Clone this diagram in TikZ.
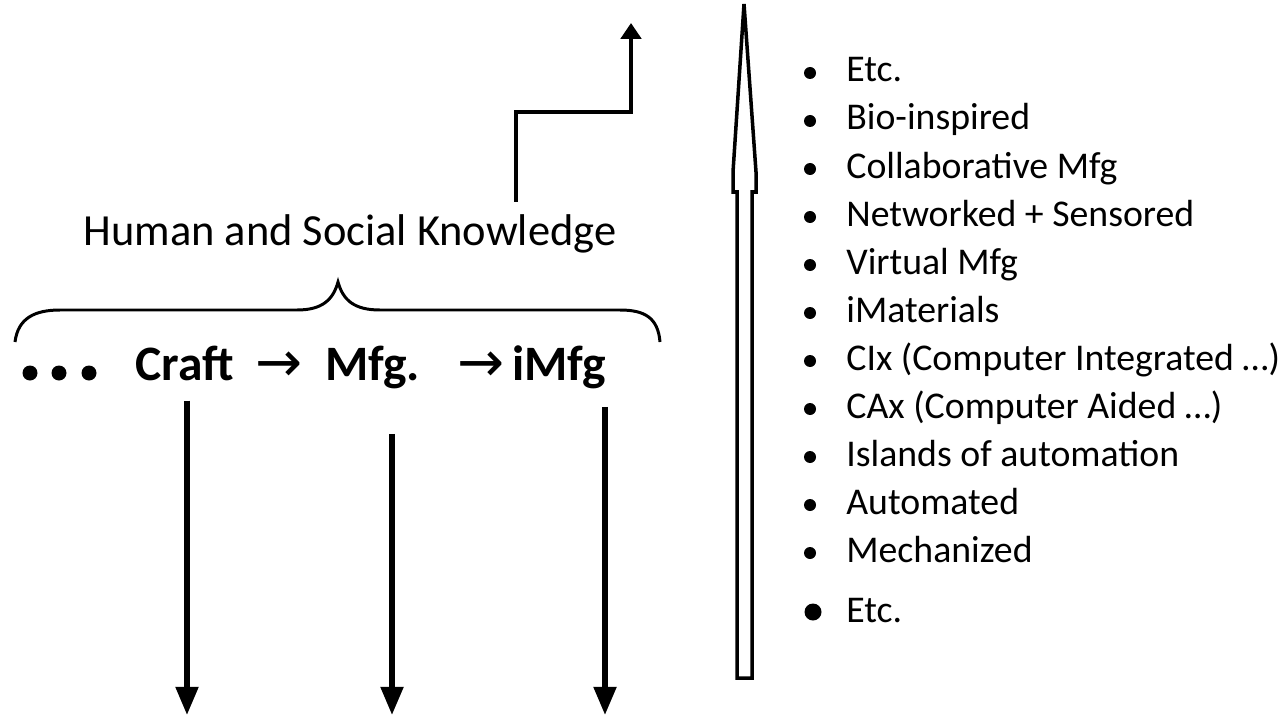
\documentclass[tikz,border=0pt]{standalone}
\usepackage{fontspec}
\setmainfont{Carlito}
\newfontfamily\arrowfont{DejaVu Sans}
\usepackage{tikz}
\usetikzlibrary{arrows.meta,calc,positioning}

\begin{document}
\begin{tikzpicture}[
    x=0.02cm,y=-0.02cm,
    headfont/.style={font=\fontsize{25.3pt}{30pt}\selectfont},
    stagefont/.style={font=\fontsize{28.2pt}{33pt}\selectfont\bfseries},
    itemfont/.style={font=\fontsize{21.5pt}{26pt}\selectfont},
    stage/.style={stagefont,anchor=base west,inner sep=0pt},
    stepto/.style={stage,font=\fontsize{32pt}{36pt}\arrowfont},
    listitem/.style={itemfont,anchor=base west,inner sep=0pt},
    downarrow/.style={line width=3pt,-{Triangle[width=12.5pt,length=16pt]}},
    uparrow/.style={line width=2.2pt,-{Triangle[width=11.5pt,length=9pt]}}
  ]
    \useasboundingbox (0,0) rectangle (1283,716);

    % evolution of manufacturing
    \node[headfont,anchor=base,inner sep=0pt] (hsk) at (350,245)
      {Human and Social Knowledge};
    \draw[line width=1.7pt]
      (15,342) .. controls (18,318) and (35,310) .. (60,310) -- (297,310)
      .. controls (322,310) and (333,300) .. (338,282)
      .. controls (343,300) and (354,310) .. (380,310) -- (620,310)
      .. controls (645,310) and (658,318) .. (660,342);
    \foreach \d in {30,59,89}
      \fill (\d,373) circle (7.5);
    \node[stage] (craft) at (135,380) {Craft};
    \node[stepto] (to1) at (255,381) {→};
    \node[stage] (mfg) at (325,380) {Mfg.};
    \node[stepto] (to2) at (457,381) {→};
    \node[stage] (imfg) at (512,380) {iMfg};

    \coordinate (craftend) at (187,715);
    \coordinate (mfgend) at (392,715);
    \coordinate (imfgend) at (605,715);
    \draw[downarrow] ($(craft.south -| craftend)+(0,20)$) -- (craftend);
    \draw[downarrow] ($(mfg.south -| mfgend)+(0,45)$) -- (mfgend);
    \draw[downarrow] ($(imfg.south -| imfgend)+(0,18)$) -- (imfgend);

    % link up to the next level
    \coordinate (elbow) at (516,112);
    \coordinate (goal) at (631,23);
    \draw[uparrow] ($(hsk.north -| elbow)+(0,-12)$) -- (elbow) -| (goal);

    % hollow arrow
    \draw[line width=2pt,line join=miter]
      (737,678) -- (737,192) -- (733,192) -- (733,172) -- (744,4)
      -- (756,172) -- (756,192) -- (752,192) -- (752,678) -- cycle;

    % list of levels
    \foreach \txt [count=\i from 0] in {Etc.,Bio-inspired,Collaborative Mfg,
        Networked + Sensored,Virtual Mfg,iMaterials,
        CIx (Computer Integrated \dots),CAx (Computer Aided \dots),
        Islands of automation,Automated,Mechanized} {
      \pgfmathsetmacro{\yb}{82+48*\i}
      \fill (810,\yb-9) circle (6);
      \node[listitem] (item\i) at (846,\yb) {\txt};
    }
    \fill (813,612) circle (8.5);
    \node[listitem] (itemlast) at (846,622) {Etc.};
  \end{tikzpicture}
\end{document}
